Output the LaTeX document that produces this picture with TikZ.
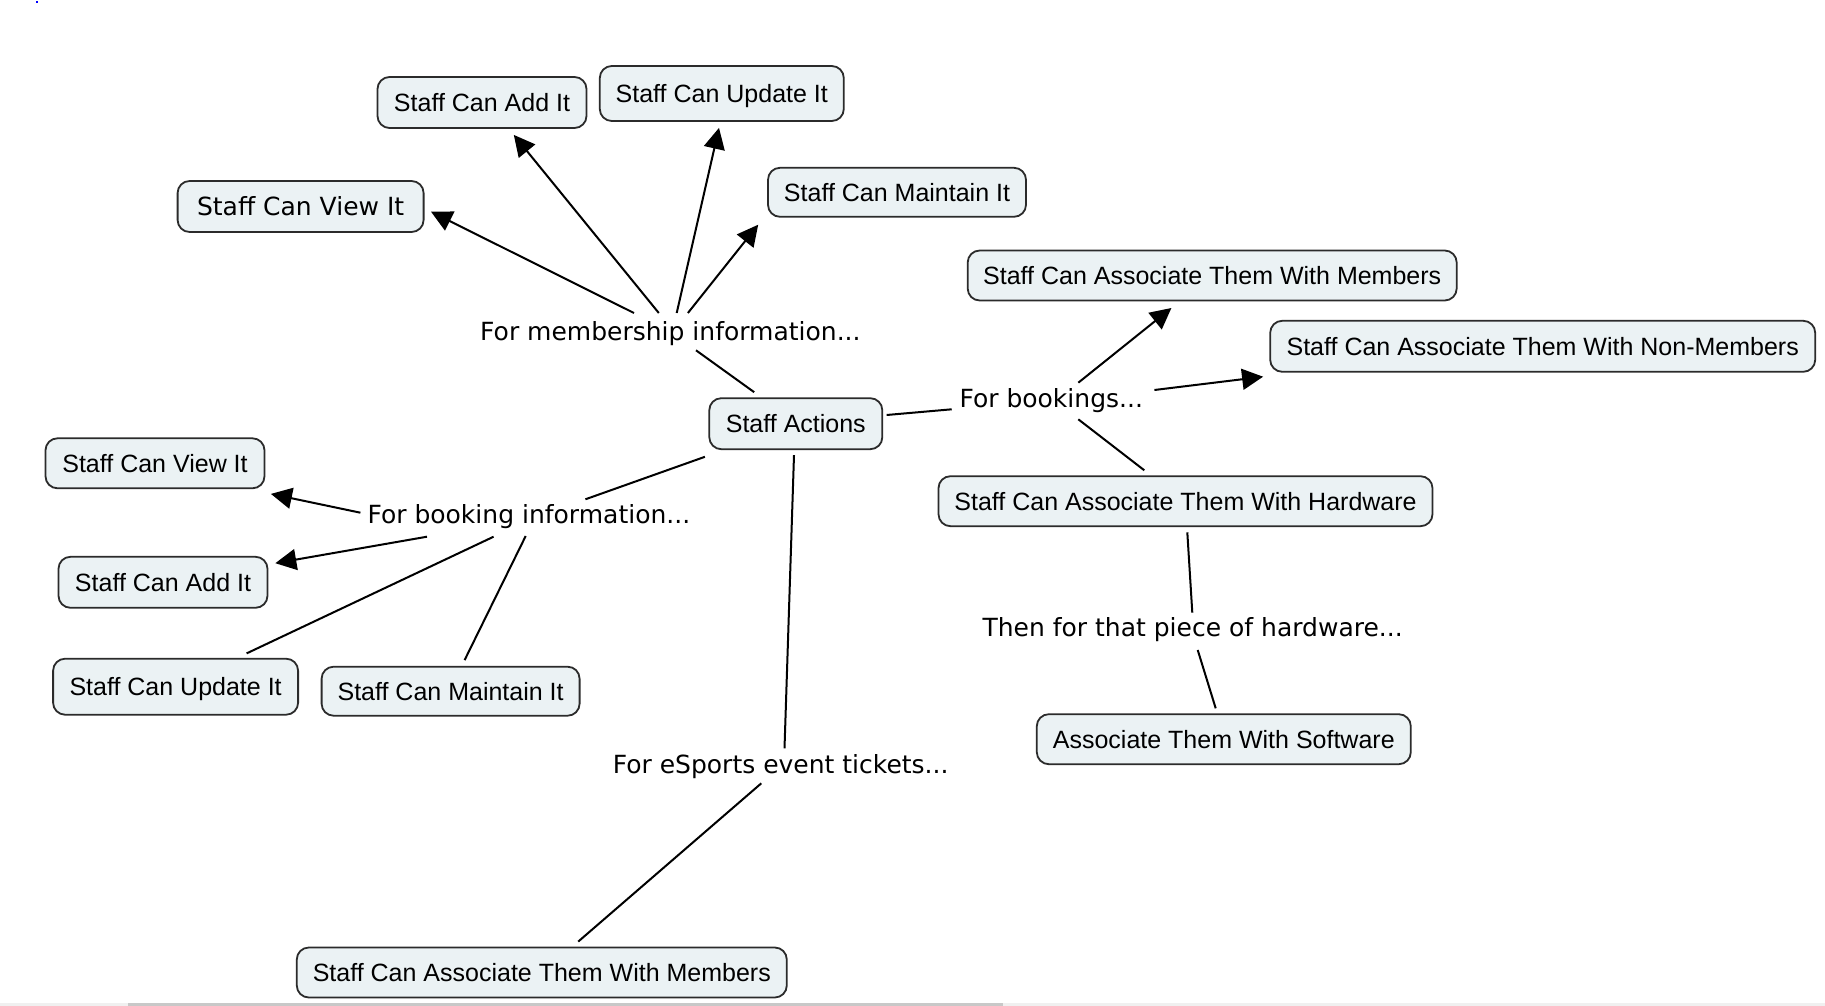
\documentclass[tikz,border=0pt]{standalone}
\usepackage{fontspec}
\setmainfont{Liberation Sans}
\newfontfamily\verdanalike{DejaVu Sans}
\usetikzlibrary{arrows.meta,calc}
\definecolor{boxfill}{HTML}{EBF2F4}
\definecolor{boxline}{HTML}{2B2B2B}
\definecolor{barlight}{HTML}{F0F0F0}
\definecolor{bardark}{HTML}{C8C8C8}
\begin{document}
\begin{tikzpicture}[x=1pt,y=1pt,
  concept/.style={draw=boxline, line width=1.8pt, fill=boxfill, rounded corners=12pt,
    inner sep=0pt, text height=18pt, text depth=0pt, font=\fontsize{25}{30}\selectfont},
  phrase/.style={inner sep=0pt, anchor=base west, font=\verdanalike\fontsize{25}{30}\selectfont},
  conn/.style={line width=2pt, black},
  arr/.style={conn, -{Triangle[length=21pt,width=21pt]}}]
\useasboundingbox (0,0) rectangle (1825,-1006);
% scroll bar remnants at the bottom
\fill[barlight] (0,-1003) rectangle (1825,-1006);
\fill[bardark] (128,-1003) rectangle (1003,-1006);
\fill[blue] (36,-1) rectangle (38,-3);

% concepts
\node[concept, minimum width=209pt, minimum height=51pt] (addT) at (482,-102.5) {Staff Can Add It};
\node[concept, minimum width=244pt, minimum height=55pt] (updT) at (721.8,-93.5) {Staff Can Update It};
\node[concept, minimum width=246pt, minimum height=51pt, font=\verdanalike\fontsize{25}{30}\selectfont] (viewT) at (300.6,-206.5) {Staff Can View It};
\node[concept, minimum width=258pt, minimum height=49pt] (maintT) at (897,-192.3) {Staff Can Maintain It};
\node[concept, minimum width=489pt, minimum height=50pt] (memT) at (1212.2,-275.5) {Staff Can Associate Them With Members};
\node[concept, minimum width=545pt, minimum height=51pt] (nonMem) at (1542.7,-346.3) {Staff Can Associate Them With Non-Members};
\node[concept, minimum width=173pt, minimum height=51pt] (sa) at (795.8,-423.7) {Staff Actions};
\node[concept, minimum width=494pt, minimum height=50pt] (hw) at (1185.5,-501.2) {Staff Can Associate Them With Hardware};
\node[concept, minimum width=219pt, minimum height=50pt] (viewL) at (155,-463.3) {Staff Can View It};
\node[concept, minimum width=209pt, minimum height=51pt] (addL) at (163,-582.3) {Staff Can Add It};
\node[concept, minimum width=245pt, minimum height=56pt] (updL) at (175.6,-686.7) {Staff Can Update It};
\node[concept, minimum width=258pt, minimum height=49pt] (maintL) at (450.6,-691.2) {Staff Can Maintain It};
\node[concept, minimum width=374pt, minimum height=50pt] (sw) at (1223.8,-739.2) {Associate Them With Software};
\node[concept, minimum width=490pt, minimum height=50pt] (memB) at (541.8,-972.5) {Staff Can Associate Them With Members};

% linking phrases
\node[phrase] (lMem) at (480,-340) {For membership information...};
\node[phrase] (lBook) at (959.3,-407) {For bookings...};
\node[phrase] (lBookInfo) at (367.3,-523.3) {For booking information...};
\node[phrase] (lHw) at (982.3,-636.7) {Then for that piece of hardware...};
\node[phrase] (lEs) at (612.6,-773.3) {For eSports event tickets...};

% membership branch
\draw[conn] ($(sa.north)+(-41.6,5.1)$) -- ($(lMem.base west)+(216,-10.3)$);
\draw[arr] ($(lMem.base west)+(154,27)$) -- ($(viewT.east)+(6.5,-5.2)$);
\draw[arr] ($(lMem.base west)+(178.8,27)$) -- ($(addT.south)+(31.8,-6)$);
\draw[arr] ($(lMem.base west)+(196.7,27)$) -- ($(updT.south)+(-2.8,-6)$);
\draw[arr] ($(lMem.base west)+(207.9,27)$) -- ($(maintT.south west)+(-8.9,-7)$);

% bookings branch
\draw[conn] ($(sa.east)+(3.4,8.7)$) -- ($(lBook.base west)+(-7.6,-2.3)$);
\draw[arr] ($(lBook.base west)+(119,24.3)$) -- ($(memT.south)+(-40.8,-6.6)$);
\draw[arr] ($(lBook.base west)+(195.1,17)$) -- ($(nonMem.south west)+(-6.2,-4)$);
\draw[conn] ($(lBook.base west)+(119,-12.3)$) -- ($(hw.north)+(-41.2,5)$);
\draw[conn] ($(hw.south)+(1.8,-5.2)$) -- ($(lHw.base west)+(210,24)$);
\draw[conn] ($(lHw.base west)+(215.4,-13.3)$) -- ($(sw.north)+(-8.1,5)$);

% booking information branch
\draw[conn] ($(sa.south west)+(-3.5,-6.7)$) -- ($(lBookInfo.base west)+(218.1,24)$);
\draw[arr] ($(lBookInfo.base west)+(-6.9,10.6)$) -- ($(viewL.south east)+(5.5,-4.7)$);
\draw[arr] ($(lBookInfo.base west)+(59.7,-13.4)$) -- ($(addL.north east)+(6.9,-7.3)$);
\draw[conn] ($(lBookInfo.base west)+(126.3,-13.4)$) -- ($(updL.north)+(71,4.4)$);
\draw[conn] ($(lBookInfo.base west)+(158.4,-12.7)$) -- ($(maintL.north)+(14,5.7)$);

% eSports branch
\draw[conn] ($(sa.south)+(-1.8,-5)$) -- ($(lEs.base west)+(171.9,25)$);
\draw[conn] ($(lEs.base west)+(148.7,-10)$) -- ($(memB.north)+(36.4,5)$);
\end{tikzpicture}
\end{document}
